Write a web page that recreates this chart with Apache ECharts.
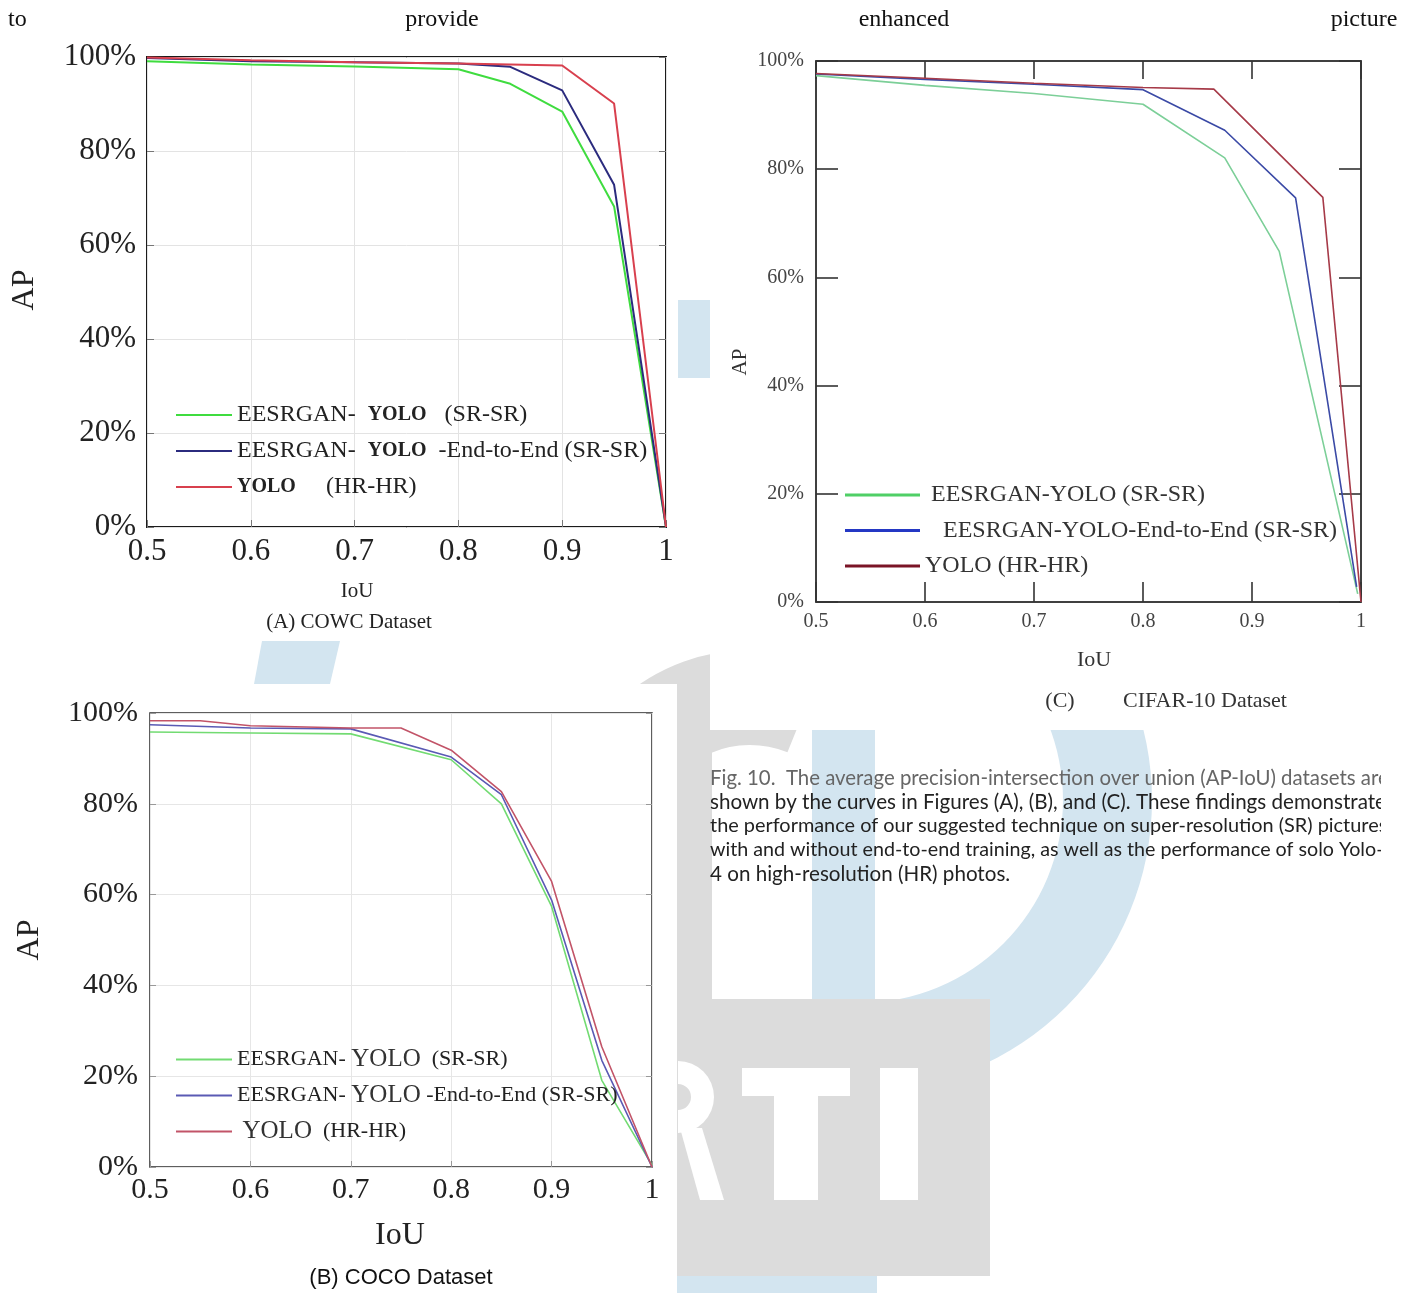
<!DOCTYPE html>
<html>
<head>
<meta charset="utf-8">
<style>
  html, body { margin: 0; padding: 0; background: #ffffff; }
  #chart { width: 1418px; height: 1293px; }
</style>
<script src="https://cdn.jsdelivr.net/npm/echarts@6/dist/echarts.min.js"></script>
</head>
<body>
<div id="chart"></div>
<script>
// ---------- tick labels ----------
const xTickLabels = ['0.5', '0.6', '0.7', '0.8', '0.9', '1'];
const yTickLabels = ['0%', '20%', '40%', '60%', '80%', '100%'];

// ---------- (A) COWC Dataset ----------
const namesA = ['EESRGAN-  YOLO   (SR-SR)', 'EESRGAN-  YOLO  -End-to-End (SR-SR)', 'YOLO     (HR-HR)'];
const iouA_sr  = [0.5, 0.6, 0.7, 0.8, 0.85, 0.9, 0.95, 1.0];
const apA_sr   = [99.1, 98.4, 98.0, 97.4, 94.3, 88.4, 68.2, 0];
const iouA_e2e = [0.5, 0.6, 0.7, 0.8, 0.85, 0.9, 0.95, 1.0];
const apA_e2e  = [99.8, 99.1, 98.9, 98.6, 97.9, 92.9, 72.8, 0];
const iouA_hr  = [0.5, 0.6, 0.7, 0.8, 0.9, 0.95, 1.0];
const apA_hr   = [99.9, 99.3, 98.9, 98.6, 98.2, 90.1, 0];

// ---------- (B) COCO Dataset ----------
const namesB = ['EESRGAN- YOLO  (SR-SR)', 'EESRGAN- YOLO -End-to-End (SR-SR)', ' YOLO  (HR-HR)'];
const iouB_sr  = [0.5, 0.6, 0.7, 0.8, 0.85, 0.9, 0.95, 1.0];
const apB_sr   = [95.8, 95.6, 95.4, 89.7, 80.0, 57.4, 19.1, 0.4];
const iouB_e2e = [0.5, 0.6, 0.7, 0.8, 0.85, 0.9, 0.95, 1.0];
const apB_e2e  = [97.4, 96.7, 96.5, 90.3, 82.0, 58.8, 23.5, 0];
const iouB_hr  = [0.5, 0.55, 0.6, 0.7, 0.75, 0.8, 0.85, 0.9, 0.95, 1.0];
const apB_hr   = [98.3, 98.3, 97.2, 96.7, 96.7, 91.8, 82.7, 62.9, 26.5, 0];

// ---------- (C) CIFAR-10 Dataset ----------
const namesC = [' EESRGAN-YOLO (SR-SR)', '   EESRGAN-YOLO-End-to-End (SR-SR)', 'YOLO (HR-HR)'];
const iouC_sr  = [0.5, 0.6, 0.7, 0.8, 0.875, 0.925, 0.997];
const apC_sr   = [97.3, 95.5, 94.0, 92.0, 82.1, 64.8, 1.5];
const iouC_e2e = [0.5, 0.6, 0.7, 0.8, 0.875, 0.94, 0.996];
const apC_e2e  = [97.6, 96.6, 95.7, 94.7, 87.2, 74.7, 2.8];
const iouC_hr  = [0.5, 0.6, 0.7, 0.8, 0.865, 0.965, 1.0];
const apC_hr   = [97.7, 96.8, 95.9, 95.1, 94.8, 74.8, 0];

// ---------- caption / page text ----------
const captionLines = [
  'Fig. 10.  The average precision-intersection over union (AP-IoU) datasets are',
  'shown by the curves in Figures (A), (B), and (C). These findings demonstrate',
  'the performance of our suggested technique on super-resolution (SR) pictures',
  'with and without end-to-end training, as well as the performance of solo Yolo-',
  '4 on high-resolution (HR) photos.'
];

// ---------- helpers ----------
const SERIF = '"Liberation Serif", "DejaVu Serif", serif';
const SANS = '"Liberation Sans", Arial, sans-serif';
const CAP = 'Lato, "Open Sans", sans-serif';
function pairs(xs, ys) { return xs.map((x, i) => [x, ys[i]]); }
function xFmt(v) { return xTickLabels[Math.round((v - 0.5) / 0.1)]; }
function yFmt(v) { return yTickLabels[Math.round(v / 20)]; }

function xAxis(grid, o) {
  return {
    type: 'value', gridIndex: grid, min: 0.5, max: 1, interval: 0.1,
    position: o.position || 'bottom',
    axisLine: { show: !!o.line, onZero: false, lineStyle: { color: o.lineColor || '#333', width: o.lineWidth || 1.5 } },
    axisTick: { show: true, inside: true, length: o.tickLen, lineStyle: { color: o.tickColor, width: o.tickWidth || 1 } },
    axisLabel: o.noLabel ? { show: false } : {
      show: true, formatter: xFmt, margin: o.margin, fontFamily: SERIF,
      fontSize: o.fontSize, color: o.labelColor || '#222'
    },
    splitLine: { show: !!o.split, lineStyle: { color: o.splitColor || '#e4e4e4', width: 1 } }
  };
}
function yAxis(grid, o) {
  return {
    type: 'value', gridIndex: grid, min: 0, max: 100, interval: 20,
    position: o.position || 'left',
    axisLine: { show: !!o.line, onZero: false, lineStyle: { color: o.lineColor || '#333', width: o.lineWidth || 1.5 } },
    axisTick: { show: true, inside: true, length: o.tickLen, lineStyle: { color: o.tickColor, width: o.tickWidth || 1 } },
    axisLabel: o.noLabel ? { show: false } : {
      show: true, formatter: yFmt, margin: o.margin, fontFamily: SERIF,
      fontSize: o.fontSize, color: o.labelColor || '#222'
    },
    splitLine: { show: !!o.split, lineStyle: { color: o.splitColor || '#e4e4e4', width: 1 } }
  };
}
function line(name, xi, yi, xs, ys, color, width) {
  return {
    type: 'line', name: name, xAxisIndex: xi, yAxisIndex: yi,
    data: pairs(xs, ys), symbol: 'none', silent: true, z: 3,
    lineStyle: { color: color, width: width }, itemStyle: { color: color }
  };
}
function txt(t, x, y, font, size, fill, align, rot) {
  const el = { type: 'text', z: 10, style: { text: t, x: 0, y: 0, fontFamily: font, fontSize: size, fill: fill, align: align || 'center', verticalAlign: 'middle' }, x: x, y: y };
  if (rot) el.rotation = rot;
  return el;
}

// ---------- colours ----------
const colA = ['#3fdc3f', '#2b2b7e', '#d8404e'];
const colB = ['#72db72', '#5a5ab4', '#c25468'];
const colC = ['#7ccf98', '#3b4aa6', '#a63a48'];
const legendColC = ['#4fcf66', '#2438c4', '#7a1426'];

// ---------- graphics (watermark, panels, texts) ----------
const LB = '#d3e5f0';
const GR = '#dcdcdc';
const deg = Math.PI / 180;
const capSizes = [20.4, 20.6, 19.9, 19.7, 20.6];
const capColors = ['#666', '#222', '#222', '#222', '#222'];
const graphics = [
  // watermark pieces
  { type: 'rect', z: -20, shape: { x: 678, y: 300, width: 32, height: 78 }, style: { fill: LB } },
  { type: 'polygon', z: -20, shape: { points: [[262, 641], [340, 641], [330, 684], [254, 684]] }, style: { fill: LB } },
  { type: 'sector', z: -20, shape: { cx: 750, cy: 845, r: 195, r0: 100, startAngle: 160 * deg, endAngle: 292 * deg }, style: { fill: GR } },
  { type: 'rect', z: -20, shape: { x: 677, y: 690, width: 35, height: 320 }, style: { fill: GR } },
  { type: 'rect', z: -20, shape: { x: 812, y: 700, width: 63, height: 593 }, style: { fill: LB } },
  { type: 'sector', z: -20, shape: { cx: 860, cy: 800, r: 292, r0: 203, startAngle: -90 * deg, endAngle: 90 * deg }, style: { fill: LB } },
  { type: 'rect', z: -20, shape: { x: 677, y: 1260, width: 200, height: 33 }, style: { fill: LB } },
  { type: 'rect', z: -19, shape: { x: 677, y: 999, width: 313, height: 277 }, style: { fill: GR } },
  { type: 'rect', z: -18, shape: { x: 742, y: 1068, width: 108, height: 28 }, style: { fill: '#ffffff' } },
  { type: 'rect', z: -18, shape: { x: 774, y: 1068, width: 44, height: 132 }, style: { fill: '#ffffff' } },
  { type: 'rect', z: -18, shape: { x: 880, y: 1068, width: 38, height: 132 }, style: { fill: '#ffffff' } },
  { type: 'sector', z: -18, shape: { cx: 678, cy: 1097, r: 36, r0: 13, startAngle: -90 * deg, endAngle: 90 * deg }, style: { fill: '#ffffff' } },
  { type: 'polygon', z: -18, shape: { points: [[680, 1128], [702, 1128], [724, 1200], [700, 1200]] }, style: { fill: '#ffffff' } },
  // white panels
  { type: 'rect', z: -10, shape: { x: 0, y: 35, width: 678, height: 604 }, style: { fill: '#ffffff' } },
  { type: 'rect', z: -10, shape: { x: 0, y: 684, width: 677, height: 609 }, style: { fill: '#ffffff' } },
  { type: 'rect', z: -10, shape: { x: 710, y: 35, width: 670, height: 695 }, style: { fill: '#ffffff' } },

  // top line of body text
  txt('to', 8, 20, SERIF, 24, '#111', 'left'),
  txt('provide', 442, 20, SERIF, 24, '#111'),
  txt('enhanced', 904, 20, SERIF, 24, '#111'),
  txt('picture', 1364, 20, SERIF, 24, '#111'),

  // chart A titles
  txt('AP', 25, 290, SERIF, 32, '#222', 'center', Math.PI / 2),
  txt('IoU', 357, 591, SERIF, 21, '#222'),
  txt('(A) COWC Dataset', 349, 622, SERIF, 21, '#222'),

  // chart B titles
  txt('AP', 30, 940, SERIF, 32, '#222', 'center', Math.PI / 2),
  txt('IoU', 400, 1236, SERIF, 32, '#222'),
  txt('(B) COCO Dataset', 401, 1278, SANS, 22, '#111'),

  // chart C titles
  txt('AP', 740, 362, SERIF, 21, '#333', 'center', Math.PI / 2),
  txt('IoU', 1094, 660, SERIF, 22, '#333'),
  txt('(C)', 1060, 701, SERIF, 22, '#333'),
  txt('CIFAR-10 Dataset', 1205, 701, SERIF, 22, '#333')
].concat(
  // caption
  captionLines.map((t, i) => txt(t, 710, 778 + 24 * i, CAP, capSizes[i], capColors[i], 'left')),
  [{ type: 'rect', z: 11, shape: { x: 1381, y: 760, width: 37, height: 130 }, style: { fill: '#ffffff' } }]
);

const option = {
  animation: false,
  backgroundColor: '#ffffff',
  grid: [
    { left: 147, top: 57, width: 519, height: 470, show: true, borderColor: '#1b1b1b', borderWidth: 2, backgroundColor: 'rgba(0,0,0,0)' },
    { left: 150, top: 713, width: 502, height: 454, show: true, borderColor: '#2a2a2a', borderWidth: 1.5, backgroundColor: 'rgba(0,0,0,0)' },
    { left: 816, top: 61, width: 545, height: 541, show: true, borderColor: '#3a3a3a', borderWidth: 1.5, backgroundColor: 'rgba(0,0,0,0)' }
  ],
  xAxis: [
    xAxis(0, { tickLen: 7, tickColor: '#777', margin: 9, fontSize: 31, split: true, splitColor: '#e3e3e3' }),
    xAxis(1, { tickLen: 6, tickColor: '#999', margin: 8, fontSize: 30, split: true, splitColor: '#e6e6e6' }),
    xAxis(2, { line: true, tickLen: 20, tickColor: '#333', tickWidth: 1.6, margin: 10, fontSize: 20, labelColor: '#444' }),
    xAxis(2, { position: 'top', line: true, tickLen: 18, tickColor: '#333', tickWidth: 1.6, noLabel: true })
  ],
  yAxis: [
    yAxis(0, { tickLen: 7, tickColor: '#777', margin: 11, fontSize: 31, split: true, splitColor: '#e3e3e3' }),
    yAxis(1, { tickLen: 6, tickColor: '#999', margin: 12, fontSize: 30, split: true, splitColor: '#e6e6e6' }),
    yAxis(2, { line: true, tickLen: 22, tickColor: '#333', tickWidth: 1.6, margin: 12, fontSize: 20, labelColor: '#444' }),
    yAxis(0, { position: 'right', tickLen: 7, tickColor: '#777', noLabel: true }),
    yAxis(1, { position: 'right', tickLen: 6, tickColor: '#999', noLabel: true }),
    yAxis(2, { position: 'right', line: true, tickLen: 22, tickColor: '#333', tickWidth: 1.6, noLabel: true })
  ],
  legend: [
    {
      orient: 'vertical', left: 176, top: 403, padding: 0, itemGap: 12,
      itemWidth: 56, itemHeight: 2, icon: 'rect', selectedMode: false,
      data: namesA,
      formatter: n => n.replace('YOLO', '{y|YOLO}'),
      textStyle: { fontFamily: SERIF, fontSize: 24, color: '#222', lineHeight: 24,
        rich: { y: { fontFamily: SERIF, fontSize: 20, fontWeight: 'bold', color: '#222', lineHeight: 24 } } }
    },
    {
      orient: 'vertical', left: 176, top: 1047, padding: 0, itemGap: 11,
      itemWidth: 56, itemHeight: 2, icon: 'rect', selectedMode: false,
      data: namesB,
      formatter: n => n.replace('YOLO', '{y|YOLO}'),
      textStyle: { fontFamily: SERIF, fontSize: 22, color: '#222', lineHeight: 24,
        rich: { y: { fontFamily: SERIF, fontSize: 25, color: '#333', lineHeight: 24 } } }
    },
    {
      orient: 'vertical', left: 845, top: 483, padding: 0, itemGap: 11.5,
      itemWidth: 75, itemHeight: 3, icon: 'rect', selectedMode: false,
      data: namesC.map((n, i) => ({ name: n, itemStyle: { color: legendColC[i] } })),
      textStyle: { fontFamily: SERIF, fontSize: 24, color: '#333', lineHeight: 24 }
    }
  ],
  series: [
    line(namesA[0], 0, 0, iouA_sr, apA_sr, colA[0], 2),
    line(namesA[1], 0, 0, iouA_e2e, apA_e2e, colA[1], 2),
    line(namesA[2], 0, 0, iouA_hr, apA_hr, colA[2], 2),
    line(namesB[0], 1, 1, iouB_sr, apB_sr, colB[0], 1.6),
    line(namesB[1], 1, 1, iouB_e2e, apB_e2e, colB[1], 1.6),
    line(namesB[2], 1, 1, iouB_hr, apB_hr, colB[2], 1.6),
    line(namesC[0], 2, 2, iouC_sr, apC_sr, colC[0], 1.6),
    line(namesC[1], 2, 2, iouC_e2e, apC_e2e, colC[1], 1.6),
    line(namesC[2], 2, 2, iouC_hr, apC_hr, colC[2], 1.6)
  ],
  graphic: graphics
};

const chart = echarts.init(document.getElementById('chart'), null, { renderer: 'canvas' });
chart.setOption(option);
</script>
</body>
</html>
